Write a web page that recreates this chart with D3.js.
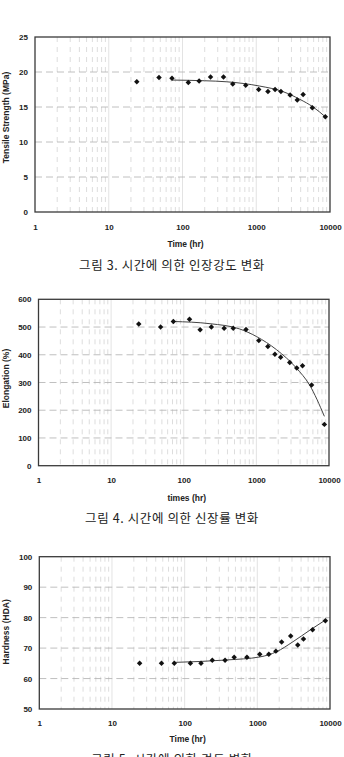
<!DOCTYPE html>
<html>
<head>
<meta charset="utf-8">
<script src="https://cdn.jsdelivr.net/npm/d3@7"></script>
<style>
  body { margin: 0; background: #fff; }
  svg { display: block; }
  .tick text { font-family: "Liberation Sans", Arial, sans-serif; font-weight: bold; font-size: 8px; fill: #222; }
</style>
</head>
<body>
<div id="chart"></div>
<script>
// aging time (hr), shared by all three figures
var times = [24, 48, 72, 120, 168, 240, 360, 480, 720, 1080, 1440, 1800, 2160, 2880, 3600, 4320, 5760, 8640];

var tensile = [18.6, 19.2, 19.1, 18.5, 18.7, 19.3, 19.3, 18.3, 18.1, 17.5, 17.2, 17.5, 17.2, 16.7, 16.0, 16.8, 14.9, 13.6];
var elongation = [511, 500, 520, 528, 490, 500, 496, 496, 491, 451, 430, 402, 391, 372, 352, 360, 291, 149];
var hardness = [65, 65, 65, 65, 65, 66, 66, 67, 67, 68, 68, 69, 72, 74, 71, 73, 76, 79];

// trend lines
var tensileFitT = [72, 200, 400, 1100, 2300, 3900, 5900, 8640];
var tensileFit = [18.85, 18.75, 18.6, 18.0, 17.2, 16.1, 15.0, 13.6];
var elongFitT = [72, 230, 590, 1000, 1900, 3560, 5400, 8640];
var elongFit = [520, 512, 493, 466, 418, 352, 291, 178];
var hardFitT = [72, 380, 1090, 1840, 3100, 5300, 8640];
var hardFit = [65.3, 66.1, 67.1, 68.8, 72.1, 75.9, 79.2];

var xTicks = [1, 10, 100, 1000, 10000];
var tsTicks = [0, 5, 10, 15, 20, 25];
var elTicks = [0, 100, 200, 300, 400, 500, 600];
var hdTicks = [50, 60, 70, 80, 90, 100];

var svg = d3.select("#chart").append("svg")
    .attr("width", 344)
    .attr("height", 757);

function drawChart(c) {
  var x = d3.scaleLog().domain([1, 10000]).range([c.left, c.right]);
  var y = d3.scaleLinear().domain([c.yTicks[0], c.yTicks[c.yTicks.length - 1]]).range([c.bottom, c.top]);
  var g = svg.append("g");

  // minor vertical grid
  var minors = [];
  [1, 10, 100, 1000].forEach(function(d) {
    for (var k = 2; k <= 9; k++) minors.push(d * k);
  });
  g.selectAll(".vminor").data(minors).enter().append("line")
      .attr("x1", function(d) { return x(d); })
      .attr("x2", function(d) { return x(d); })
      .attr("y1", c.top).attr("y2", c.bottom)
      .style("stroke", "#cfcfcf").style("stroke-width", 0.7)
      .style("stroke-dasharray", "5,5");
  g.selectAll(".vmajor").data([10, 100, 1000]).enter().append("line")
      .attr("x1", function(d) { return x(d); })
      .attr("x2", function(d) { return x(d); })
      .attr("y1", c.top).attr("y2", c.bottom)
      .style("stroke", "#dcdcdc").style("stroke-width", 0.8);
  g.selectAll(".hgrid").data(c.yTicks.slice(1, -1)).enter().append("line")
      .attr("x1", c.left).attr("x2", c.right)
      .attr("y1", function(d) { return y(d); })
      .attr("y2", function(d) { return y(d); })
      .style("stroke", "#b0b0b0").style("stroke-width", 0.8)
      .style("stroke-dasharray", "7,4");

  // axes
  g.append("g")
      .attr("transform", "translate(0," + c.bottom + ")")
      .call(d3.axisBottom(x).tickValues(xTicks).tickFormat(d3.format("d")).tickSize(0).tickPadding(c.xPad))
      .call(function(a) { a.select(".domain").remove(); });
  g.append("g")
      .attr("transform", "translate(" + c.left + ",0)")
      .call(d3.axisLeft(y).tickValues(c.yTicks).tickSize(0).tickPadding(7))
      .call(function(a) { a.select(".domain").remove(); });

  // frame
  g.append("rect")
      .attr("x", c.left).attr("y", c.top)
      .attr("width", c.right - c.left).attr("height", c.bottom - c.top)
      .style("fill", "none").style("stroke", "#3a3a3a").style("stroke-width", 1.3);

  // trend line
  var line = d3.line()
      .x(function(d) { return x(d[0]); })
      .y(function(d) { return y(d[1]); })
      .curve(d3.curveMonotoneX);
  g.append("path")
      .datum(d3.zip(c.fitT, c.fit))
      .attr("d", line)
      .style("fill", "none").style("stroke", "#444").style("stroke-width", 1);

  // markers
  g.selectAll(".pt").data(d3.zip(times, c.values)).enter().append("path")
      .attr("d", d3.symbol().type(d3.symbolSquare).size(15))
      .attr("transform", function(d) { return "translate(" + x(d[0]) + "," + y(d[1]) + ") rotate(45)"; })
      .style("fill", "#111");

  // axis titles
  g.append("text")
      .attr("x", (c.left + c.right) / 2 + 3).attr("y", c.xTitleY)
      .attr("text-anchor", "middle")
      .style("font-family", "Liberation Sans, Arial, sans-serif")
      .style("font-weight", "bold").style("font-size", "8.5px").style("fill", "#222")
      .text(c.xTitle);
  g.append("text")
      .attr("transform", "translate(9," + ((c.top + c.bottom) / 2 + c.yTitleShift) + ") rotate(-90)")
      .attr("text-anchor", "middle")
      .style("font-family", "Liberation Sans, Arial, sans-serif")
      .style("font-weight", "bold").style("font-size", "8.5px").style("fill", "#222")
      .text(c.yTitle);

  // caption
  g.append("text")
      .attr("x", 172).attr("y", c.captionY)
      .attr("text-anchor", "middle")
      .style("font-family", "Noto Sans CJK KR, sans-serif")
      .style("font-size", "12.5px").style("letter-spacing", "0.6px").style("fill", "#222")
      .text(c.caption);
}

drawChart({
  left: 35, right: 330, top: 37, bottom: 212,
  yTicks: tsTicks, values: tensile, fitT: tensileFitT, fit: tensileFit,
  xPad: 12, xTitleY: 247, xTitle: "Time (hr)",
  yTitle: "Tensile Strength (MPa)", yTitleShift: -7,
  captionY: 270, caption: "그림 3. 시간에 의한 인장강도 변화"
});

drawChart({
  left: 38.5, right: 329, top: 299.3, bottom: 465.7,
  yTicks: elTicks, values: elongation, fitT: elongFitT, fit: elongFit,
  xPad: 12, xTitleY: 501, xTitle: "times (hr)",
  yTitle: "Elongation (%)", yTitleShift: -4,
  captionY: 523, caption: "그림 4. 시간에 의한 신장률 변화"
});

drawChart({
  left: 39.3, right: 330, top: 556.7, bottom: 709,
  yTicks: hdTicks, values: hardness, fitT: hardFitT, fit: hardFit,
  xPad: 11, xTitleY: 742, xTitle: "Time (hr)",
  yTitle: "Hardness (HDA)", yTitleShift: -1,
  captionY: 764, caption: "그림 5. 시간에 의한 경도 변화"
});
</script>
</body>
</html>
